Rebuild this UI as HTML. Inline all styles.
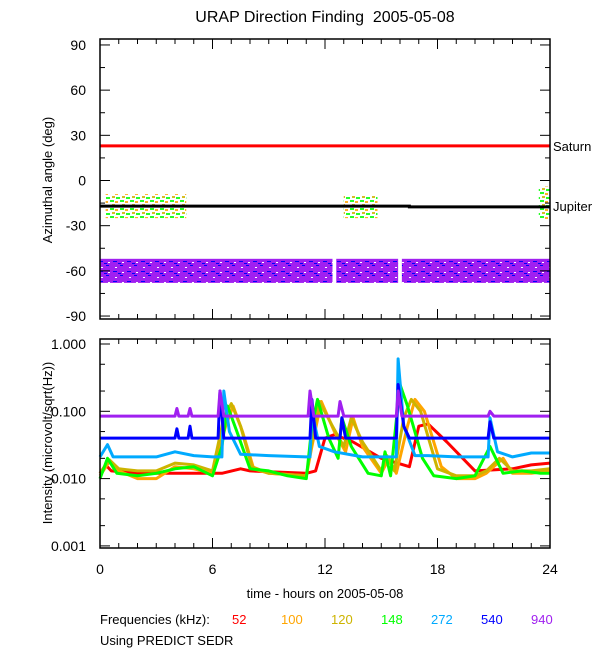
<!DOCTYPE html>
<html><head><meta charset="utf-8"><style>
body{margin:0;background:#fff;width:600px;height:650px;overflow:hidden}
svg{display:block;font-family:"Liberation Sans",Arial,sans-serif}
</style></head><body>
<svg id="chart" width="600" height="650" viewBox="0 0 600 650">
<defs>
<pattern id="bandPat" width="14" height="10" patternUnits="userSpaceOnUse">
<rect width="14" height="10" fill="#a020f0"/>
<rect x="1" y="1" width="4" height="1" fill="#0000ff"/><rect x="8" y="5" width="3" height="1" fill="#0000ff"/>
<rect x="3" y="7" width="2" height="1" fill="#fff"/><rect x="10" y="2" width="2" height="1" fill="#fff"/>
<rect x="6" y="3" width="3" height="1" fill="#0000ff"/>
</pattern>
<pattern id="clusterPat" width="10" height="8" patternUnits="userSpaceOnUse">
<rect width="10" height="8" fill="#fff"/>
<rect x="0" y="0" width="4" height="2" fill="#00ff00"/><rect x="5" y="1" width="3" height="2" fill="#ffa500"/>
<rect x="2" y="4" width="3" height="2" fill="#cdb400"/><rect x="6" y="5" width="4" height="2" fill="#00ff00"/>
</pattern>
</defs>
<text x="325" y="22" text-anchor="middle" font-size="16">URAP Direction Finding&#160; 2005-05-08</text>
<g id="top"></g>
<g id="bot"></g>
<text x="325" y="598" text-anchor="middle" font-size="13">time - hours on 2005-05-08</text>
<g font-size="13">
<text x="100" y="624">Frequencies (kHz):</text>
<text x="232" y="624" fill="#ff0000">52</text>
<text x="281" y="624" fill="#ffa500">100</text>
<text x="331" y="624" fill="#cdb400">120</text>
<text x="381" y="624" fill="#00ff00">148</text>
<text x="431" y="624" fill="#00aaff">272</text>
<text x="481" y="624" fill="#0000ff">540</text>
<text x="531" y="624" fill="#a020f0">940</text>
</g>
<text x="100" y="645" font-size="13">Using PREDICT SEDR</text>
</svg>
<script>
const xTicks=[0,6,12,18,24];
const angTicks=[90,60,30,0,-30,-60,-90];
const intTicks=[1,0.1,0.01,0.001];
const intTickLabels=["1.000","0.100","0.010","0.001"];
const saturnAngle=23;
const jupiterTimes=[0,16.5,16.5,24];
const jupiterAngles=[-17,-17,-17.5,-17.5];
const bandStarts=[0,12.6,16.1];
const bandEnds=[12.4,15.9,24];
const bandTop=-52, bandBottom=-68;
const clusterStarts=[0.3,13.0,23.4];
const clusterEnds=[4.6,14.8,24];
const clusterTops=[-9,-10,-4];
const clusterBottoms=[-25,-25,-26];
const t52=[0,0.3,0.6,2,4,6,6.5,7.5,8,11,11.5,12,12.5,13.5,15,16.5,17,17.5,18.5,20,22,23,24];
const v52=[0.012,0.016,0.013,0.012,0.012,0.012,0.012,0.014,0.013,0.012,0.013,0.04,0.045,0.035,0.02,0.015,0.06,0.065,0.035,0.013,0.014,0.016,0.017];
const t100=[0,0.5,1,2,3,4,5,6,6.7,7.1,7.6,8.2,9,11,11.3,11.8,12.5,13.1,13.5,14,15,15.4,15.8,16.4,16.8,17.3,18.2,19,20,20.6,21.5,22,23,24];
const v100=[0.011,0.018,0.013,0.010,0.010,0.015,0.014,0.012,0.06,0.12,0.05,0.014,0.012,0.011,0.03,0.14,0.05,0.025,0.08,0.03,0.012,0.02,0.012,0.06,0.15,0.1,0.015,0.010,0.010,0.012,0.02,0.012,0.012,0.013];
const t120=[0,0.5,1,2,3,4,5,6,6.6,7.0,7.5,8.1,9,11,11.3,11.7,12.4,13.0,13.4,14,15,15.3,15.7,16.2,16.6,17.1,18,19,20,20.6,21.3,22,23,24];
const v120=[0.012,0.019,0.014,0.013,0.013,0.017,0.016,0.013,0.08,0.13,0.06,0.015,0.012,0.011,0.035,0.14,0.06,0.03,0.08,0.035,0.013,0.022,0.013,0.08,0.15,0.1,0.014,0.011,0.011,0.013,0.02,0.013,0.013,0.014];
const t148=[0,0.4,0.9,2,3,4,5,6,6.5,6.8,7.3,8,9,10,11,11.3,11.6,12.2,12.7,12.9,13.4,14.3,15,15.2,15.5,16.0,16.4,17.2,17.8,19,20,20.8,21.5,22.5,23.5,24];
const v148=[0.010,0.02,0.012,0.011,0.012,0.014,0.015,0.011,0.03,0.12,0.05,0.014,0.013,0.011,0.010,0.06,0.15,0.04,0.02,0.08,0.03,0.012,0.011,0.025,0.011,0.25,0.12,0.02,0.011,0.010,0.011,0.03,0.012,0.013,0.012,0.012];
const t272=[0,0.4,0.7,1,3,4,5,6,6.5,6.6,6.9,7.5,9,11,11.2,11.3,11.7,12.5,14,15,15.8,15.9,16.2,16.8,17.5,19,20.5,20.7,20.8,21.2,22,23,24];
const v272=[0.021,0.032,0.021,0.021,0.021,0.025,0.022,0.021,0.021,0.2,0.05,0.023,0.022,0.021,0.021,0.1,0.03,0.025,0.021,0.021,0.021,0.6,0.06,0.022,0.022,0.021,0.021,0.021,0.08,0.025,0.021,0.024,0.024];
const t540=[0,4.0,4.1,4.2,4.7,4.8,4.9,6.3,6.4,6.6,11.2,11.3,11.5,12.8,12.9,13.1,15.8,15.9,16.2,16.5,20.7,20.8,21.0,24];
const v540=[0.04,0.04,0.055,0.04,0.04,0.06,0.04,0.04,0.2,0.04,0.04,0.15,0.04,0.04,0.08,0.04,0.04,0.25,0.06,0.04,0.04,0.07,0.04,0.04];
const t940=[0,4.0,4.1,4.2,4.7,4.8,4.9,6.3,6.4,6.6,11.1,11.2,11.4,12.7,12.8,13.0,15.8,15.9,16.1,20.7,20.8,21.0,24];
const v940=[0.085,0.085,0.11,0.085,0.085,0.11,0.085,0.085,0.2,0.085,0.085,0.2,0.085,0.085,0.14,0.085,0.085,0.2,0.085,0.085,0.1,0.085,0.085];

const NS="http://www.w3.org/2000/svg";
const X0=100,X1=550;
const xs=h=>X0+(X1-X0)*h/24;
const yA=a=>180.5-a*1.506;
const yI=v=>344-Math.log10(v)*67.3;
function mk(tag,attrs,parent){const e=document.createElementNS(NS,tag);for(const k in attrs)e.setAttribute(k,attrs[k]);parent.appendChild(e);return e;}
function frame(g,y0,y1){
  mk('rect',{x:X0,y:y0,width:X1-X0,height:y1-y0,fill:'none',stroke:'#000','stroke-width':1.5},g);
  for(let h=0;h<=24;h++){const L=h%6==0?10:5;
    mk('line',{x1:xs(h),x2:xs(h),y1:y1,y2:y1-L,stroke:'#000'},g);
    mk('line',{x1:xs(h),x2:xs(h),y1:y0,y2:y0+L,stroke:'#000'},g);}
}
const topG=document.getElementById('top'), botG=document.getElementById('bot');
for(let i=0;i<bandStarts.length;i++){
  const r=mk('rect',{x:xs(bandStarts[i]),y:yA(bandTop),width:xs(bandEnds[i])-xs(bandStarts[i]),height:yA(bandBottom)-yA(bandTop),fill:'url(#bandPat)'},topG);
  
  
}
for(let i=0;i<clusterStarts.length;i++){
  const r=mk('rect',{x:xs(clusterStarts[i]),y:yA(clusterTops[i]),width:xs(clusterEnds[i])-xs(clusterStarts[i]),height:yA(clusterBottoms[i])-yA(clusterTops[i]),fill:'url(#clusterPat)',opacity:0.85},topG);
  
  
}
const sat=mk('line',{x1:X0,x2:X1,y1:yA(saturnAngle),y2:yA(saturnAngle),stroke:'#ff0000','stroke-width':3},topG);


const jp=mk('polyline',{points:jupiterTimes.map((t,i)=>xs(t)+','+yA(jupiterAngles[i])).join(' '),fill:'none',stroke:'#000','stroke-width':3},topG);


frame(topG,39,319);
for(let a=-90;a<=90;a+=15){const L=a%30==0?10:5;
  mk('line',{x1:X0,x2:X0+L,y1:yA(a),y2:yA(a),stroke:'#000'},topG);
  mk('line',{x1:X1,x2:X1-L,y1:yA(a),y2:yA(a),stroke:'#000'},topG);}
angTicks.forEach(a=>{const t=mk('text',{x:86,y:yA(a)+5,'text-anchor':'end','font-size':14},topG);t.textContent=a;
  
  });
const st=mk('text',{x:553,y:yA(saturnAngle)+5,'font-size':13},topG);st.textContent='Saturn';


const jt=mk('text',{x:553,y:yA(-17)+5,'font-size':13},topG);jt.textContent='Jupiter';


const yt=mk('text',{transform:'translate(52,180) rotate(-90)','text-anchor':'middle','font-size':13},topG);yt.textContent='Azimuthal angle (deg)';


const series=[[t52,v52,'#ff0000','52'],[t100,v100,'#ffa500','100'],[t120,v120,'#cdb400','120'],[t148,v148,'#00ff00','148'],[t272,v272,'#00aaff','272'],[t540,v540,'#0000ff','540'],[t940,v940,'#a020f0','940']];
series.forEach(s=>{
  const p=mk('polyline',{points:s[0].map((t,i)=>xs(t).toFixed(1)+','+yI(s[1][i]).toFixed(1)).join(' '),fill:'none',stroke:s[2],'stroke-width':3,'stroke-linejoin':'round'},botG);
  
  
});
frame(botG,339,548);
intTicks.forEach((v,i)=>{
  mk('line',{x1:X0,x2:X0+10,y1:yI(v),y2:yI(v),stroke:'#000'},botG);
  mk('line',{x1:X1,x2:X1-10,y1:yI(v),y2:yI(v),stroke:'#000'},botG);
  if(i<3){[2,5].forEach(m=>{const y=yI(v*m/10);
    mk('line',{x1:X0,x2:X0+5,y1:y,y2:y,stroke:'#000'},botG);
    mk('line',{x1:X1,x2:X1-5,y1:y,y2:y,stroke:'#000'},botG);});}
  const t=mk('text',{x:86,y:yI(v)+5,'text-anchor':'end','font-size':14},botG);t.textContent=intTickLabels[i];
  
  
});
xTicks.forEach(h=>{const t=mk('text',{x:xs(h),y:574,'text-anchor':'middle','font-size':14},botG);t.textContent=h;
  
  });
const yt2=mk('text',{transform:'translate(52,443) rotate(-90)','text-anchor':'middle','font-size':13},botG);yt2.textContent='Intensity (microvolt/sqrt(Hz))';


</script>
</body></html>
